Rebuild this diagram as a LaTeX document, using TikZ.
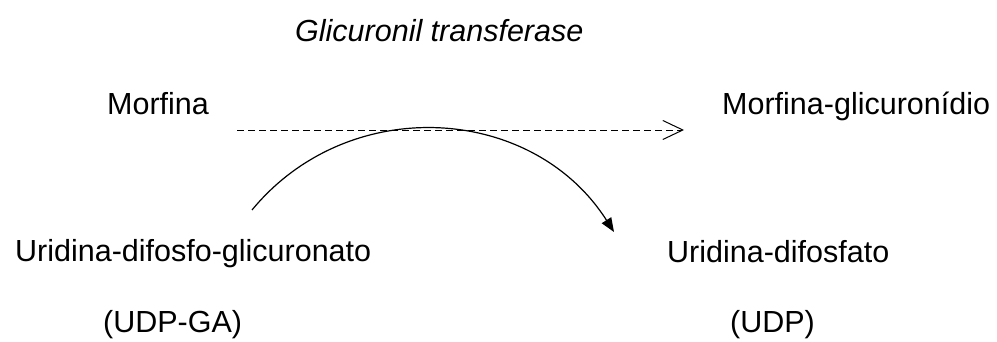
\documentclass[tikz,border=0pt]{standalone}
\usepackage{fontspec}
\setmainfont{Liberation Sans}
\usetikzlibrary{arrows.meta}
\begin{document}
\begin{tikzpicture}[x=1pt,y=1pt,
  lbl/.style={inner sep=0pt, anchor=base west, font=\fontsize{30.5}{32}\selectfont},
  reactline/.style={line width=0.9pt, dash pattern=on 7pt off 4pt, -{Straight Barb[length=20pt,width=19pt,line width=1pt]}},
  coline/.style={line width=1.2pt, -{Triangle[length=14pt,width=11pt]}}]
\useasboundingbox (0,0) rectangle (997,342);
\node[lbl, font=\fontsize{30.5}{32}\selectfont\itshape] (enz) at (295,300) {Glicuronil transferase};
\node[lbl] (morf) at (107,227) {Morfina};
\node[lbl] (morfg) at (722,227) {Morfina-glicuronídio};
\node[lbl] (udpga) at (15,80) {Uridina-difosfo-glicuronato};
\node[lbl] (udp) at (667,79) {Uridina-difosfato};
\node[lbl] (udpgaab) at (103,9) {(UDP-GA)};
\node[lbl] (udpab) at (730,9) {(UDP)};
\coordinate (dstart) at (237,212);
\coordinate (dend) at (684,212);
\coordinate (astart) at (252,132);
\coordinate (aend) at (614,110);
\draw[reactline] (dstart) -- (dend);
\draw[coline] (astart) to[out=50.5, in=122.5, looseness=1.07] (aend);
\end{tikzpicture}
\end{document}
